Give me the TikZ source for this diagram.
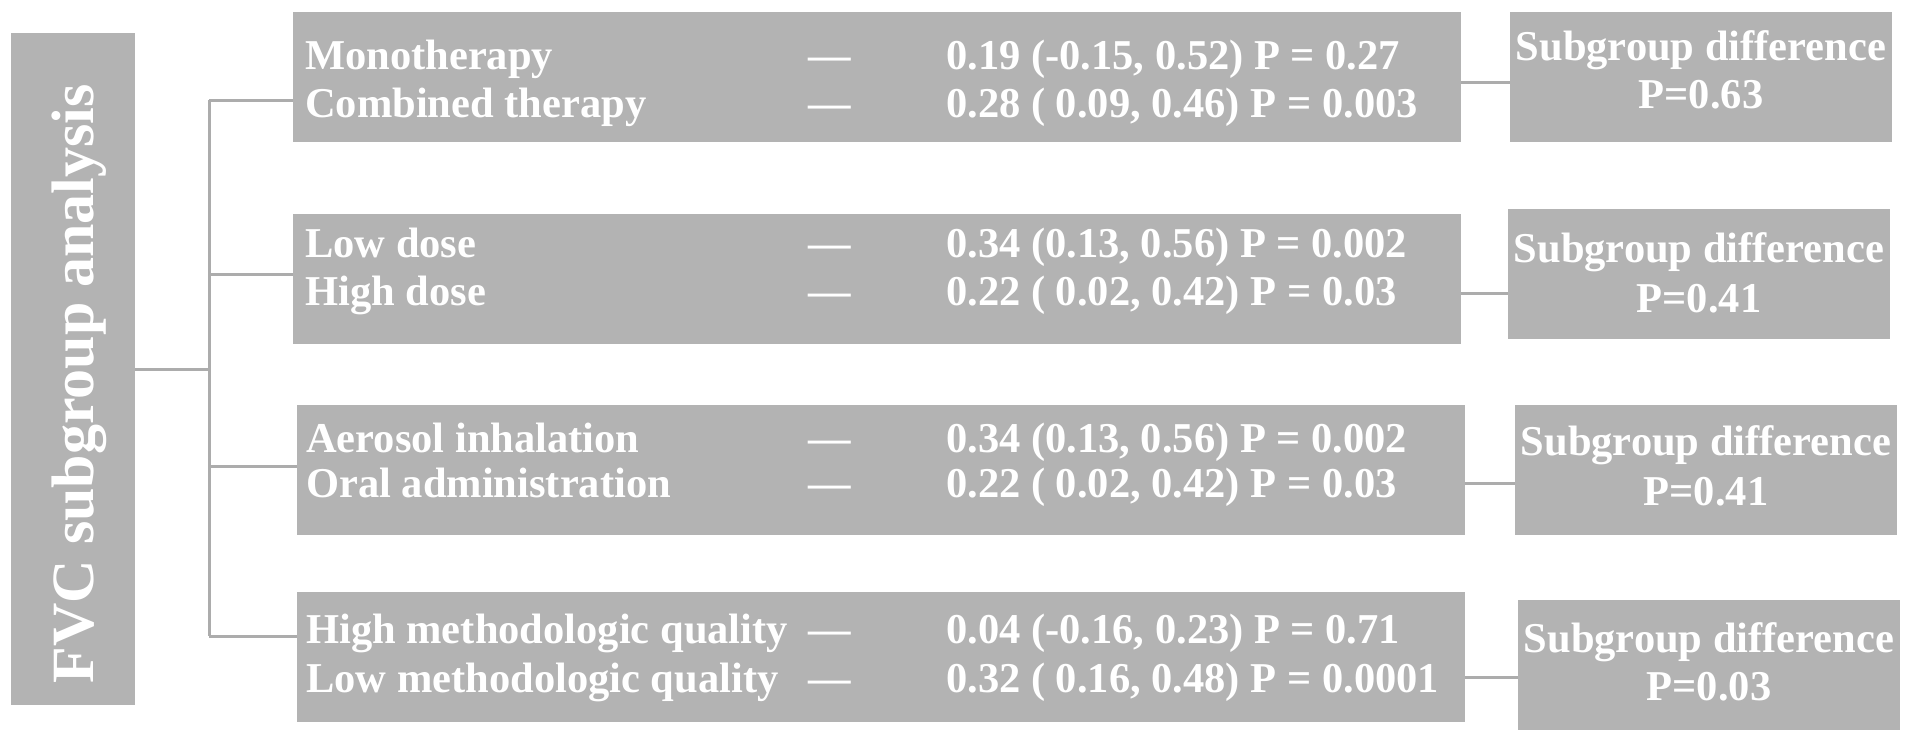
\documentclass[tikz,border=0pt]{standalone}
\usepackage{fontspec}
\setmainfont{Liberation Serif}
\definecolor{boxgray}{RGB}{179,179,179}
\definecolor{linegray}{RGB}{172,172,172}
\begin{document}
\begin{tikzpicture}[x=1pt,y=-1pt,
  box/.style={fill=boxgray,draw=none,inner sep=0pt,outer sep=0pt,rectangle},
  gbox/.style={box,minimum width=1168pt,minimum height=130pt},
  rbox/.style={box,minimum width=382pt,minimum height=130pt},
  conn/.style={draw=linegray,line width=3pt},
  txt/.style={text=white,font=\fontsize{42.5}{47}\selectfont\bfseries,inner sep=0pt,anchor=base west},
  ctxt/.style={text=white,font=\fontsize{42.5}{47}\selectfont\bfseries,inner sep=0pt,anchor=base},
  ttl/.style={text=white,font=\fontsize{60}{66}\selectfont\bfseries,inner sep=0pt,anchor=base,rotate=90}]
\useasboundingbox (0,0) rectangle (1913,744);
% boxes
\node[box,minimum width=124pt,minimum height=672pt] (root) at (73,369) {};
\node[gbox] (g1) at (877,77) {};
\node[gbox] (g2) at (877,279) {};
\node[gbox] (g3) at (881,470) {};
\node[gbox] (g4) at (881,657) {};
\node[rbox] (r1) at (1701,77) {};
\node[rbox] (r2) at (1699,274) {};
\node[rbox] (r3) at (1706,470) {};
\node[rbox] (r4) at (1709,665) {};
% title
\node[ttl] (title) at (93,383.5) {FVC subgroup analysis};
% connectors on the left
\coordinate (t0) at (209,369);
\coordinate (b1) at (209,100);
\coordinate (b2) at (209,274);
\coordinate (b3) at (209,466);
\coordinate (b4) at (209,636);
\draw[conn] (root.east) -- (t0);
\draw[conn] (b1) -- (b4);
\draw[conn] (b1) -- (b1 -| g1.west);
\draw[conn] (b2) -- (b2 -| g2.west);
\draw[conn] (b3) -- (b3 -| g3.west);
\draw[conn] (b4) -- (b4 -| g4.west);
% connectors on the right
\coordinate (c1) at (0,82);
\coordinate (c2) at (0,293);
\coordinate (c3) at (0,483);
\coordinate (c4) at (0,677);
\draw[conn] (c1 -| g1.east) -- (c1 -| r1.west);
\draw[conn] (c2 -| g2.east) -- (c2 -| r2.west);
\draw[conn] (c3 -| g3.east) -- (c3 -| r3.west);
\draw[conn] (c4 -| g4.east) -- (c4 -| r4.west);
% group 1
\node[txt] (l11) at (305,69) {Monotherapy};
\node[txt] (l12) at (305,117) {Combined therapy};
\node[txt] (d11) at (808,69) {—};
\node[txt] (d12) at (808,117) {—};
\node[txt] (v11) at (946,69) {0.19 (-0.15, 0.52) P = 0.27};
\node[txt] (v12) at (946,117) {0.28 ( 0.09, 0.46) P = 0.003};
% group 2
\node[txt] (l21) at (305,257) {Low dose};
\node[txt] (l22) at (305,305) {High dose};
\node[txt] (d21) at (808,257) {—};
\node[txt] (d22) at (808,305) {—};
\node[txt] (v21) at (946,257) {0.34 (0.13, 0.56) P = 0.002};
\node[txt] (v22) at (946,305) {0.22 ( 0.02, 0.42) P = 0.03};
% group 3
\node[txt] (l31) at (306,452) {Aerosol inhalation};
\node[txt] (l32) at (306,497) {Oral administration};
\node[txt] (d31) at (808,452) {—};
\node[txt] (d32) at (808,497) {—};
\node[txt] (v31) at (946,452) {0.34 (0.13, 0.56) P = 0.002};
\node[txt] (v32) at (946,497) {0.22 ( 0.02, 0.42) P = 0.03};
% group 4
\node[txt] (l41) at (306,643) {High methodologic quality};
\node[txt] (l42) at (306,692) {Low methodologic quality};
\node[txt] (d41) at (808,643) {—};
\node[txt] (d42) at (808,692) {—};
\node[txt] (v41) at (946,643) {0.04 (-0.16, 0.23) P = 0.71};
\node[txt] (v42) at (946,692) {0.32 ( 0.16, 0.48) P = 0.0001};
% right boxes text
\node[ctxt] (s1) at (1701,60) {Subgroup difference};
\node[ctxt] (p1) at (1701,108) {P=0.63};
\node[ctxt] (s2) at (1699,262) {Subgroup difference};
\node[ctxt] (p2) at (1699,312) {P=0.41};
\node[ctxt] (s3) at (1706,455) {Subgroup difference};
\node[ctxt] (p3) at (1706,505) {P=0.41};
\node[ctxt] (s4) at (1709,652) {Subgroup difference};
\node[ctxt] (p4) at (1709,700) {P=0.03};
\end{tikzpicture}
\end{document}
